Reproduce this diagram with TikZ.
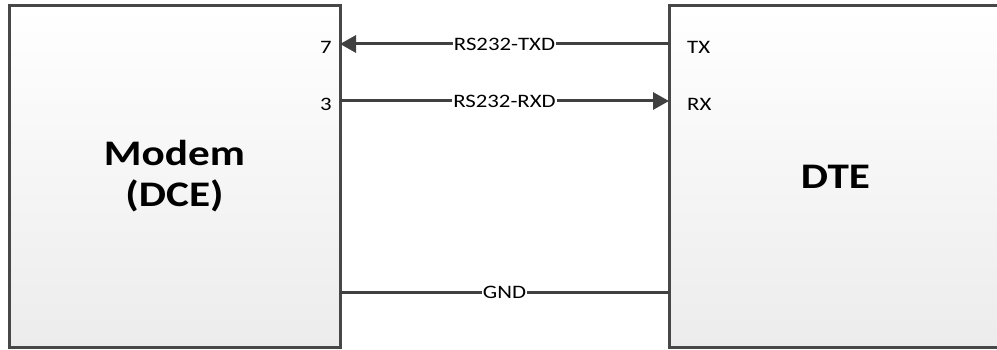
\documentclass[tikz,border=0pt]{standalone}
\usepackage{fontspec}
\usepackage{tikz}
\usetikzlibrary{arrows.meta,positioning}
\newfontfamily\diagfont[FakeStretch=1.2]{Carlito}
\definecolor{Wire}{HTML}{404040}
\definecolor{Frame}{HTML}{474747}
\definecolor{Shade}{HTML}{ECECEC}

\begin{document}
\begin{tikzpicture}[x=1pt,y=-1pt,
    unit/.style={draw=Frame,line width=3pt,top color=white,bottom color=Shade,outer sep=0pt,inner sep=0pt,minimum width=331pt,minimum height=341pt,align=center,font=\diagfont\fontsize{36}{36}\selectfont\bfseries},
    pin/.style={inner sep=0pt,font=\diagfont\fontsize{19}{23}\selectfont},
    sig/.style={fill=white,inner sep=1pt,font=\diagfont\fontsize{19}{23}\selectfont},
    wire/.style={line width=3pt,draw=Wire},
    a/.style={-{Triangle[length=16pt,width=17pt]}}]
  \useasboundingbox (0,0) rectangle (997,350);
  \node[unit] (dce) at (174.5,176.5) {Modem\\[5pt](DCE)};
  \node[unit,minimum width=333pt] (dte) at (835.5,176.5) {DTE};
  % pins on the box edges
  \coordinate (dce7) at (340,44);
  \coordinate (dce3) at (340,101);
  \coordinate (dcegnd) at (340,292);
  \coordinate (dtetx) at (669,44);
  \coordinate (dterx) at (669,101);
  \coordinate (dtegnd) at (669,292);
  \node[pin,anchor=east] (l7) at (332,47) {7};
  \node[pin,anchor=east] (l3) at (332,104) {3};
  \node[pin,anchor=west] (ltx) at (687,47) {TX};
  \node[pin,anchor=west] (lrx) at (687,104) {RX};
  \draw[wire,a] (dtetx) -- node[sig] (txd) {RS232-TXD} (dce7);
  \draw[wire,a] (dce3) -- node[sig] (rxd) {RS232-RXD} (dterx);
  \draw[wire] (dcegnd) -- node[sig] (gnd) {GND} (dtegnd);
\end{tikzpicture}
\end{document}
